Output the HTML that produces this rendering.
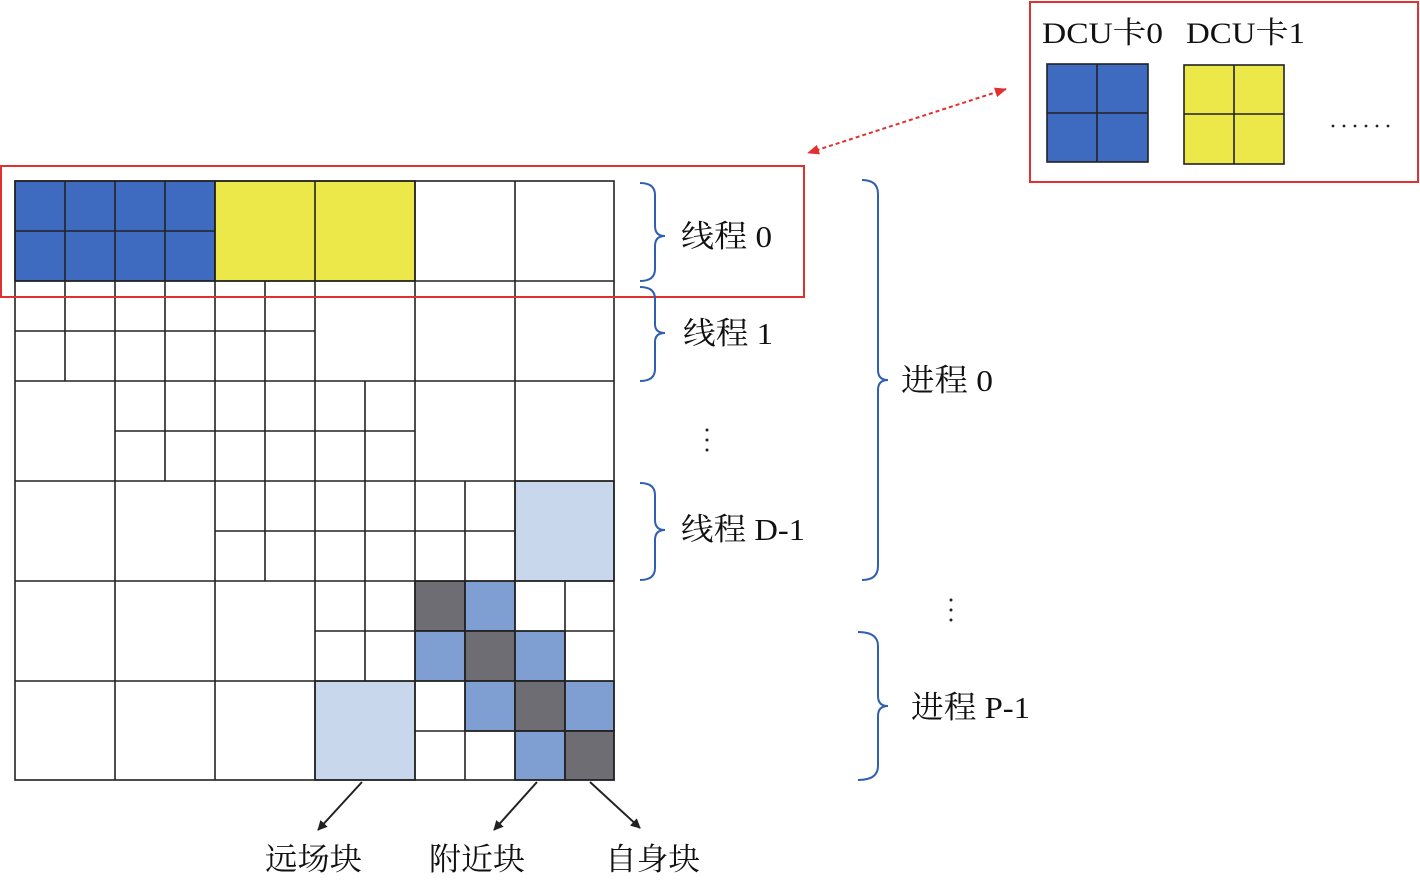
<!DOCTYPE html>
<html><head><meta charset="utf-8"><style>
html,body{margin:0;padding:0;background:#fff;}
svg{display:block;}
text{font-family:"Liberation Serif","Noto Serif CJK SC",serif;fill:#111;}
</style></head><body>
<svg width="1420" height="881" viewBox="0 0 1420 881" xmlns="http://www.w3.org/2000/svg">
<defs>
<marker id="ar" markerWidth="10" markerHeight="10" refX="9" refY="5" orient="auto" markerUnits="userSpaceOnUse"><path d="M0,0 L10,5 L0,10 z" fill="#222"/></marker>
<marker id="rr" markerWidth="12" markerHeight="10" refX="11" refY="5" orient="auto-start-reverse" markerUnits="userSpaceOnUse"><path d="M0,0 L12,5 L0,10 z" fill="#e03030"/></marker>
</defs>
<g stroke="#222" stroke-width="1.6">
<rect x="15" y="181" width="200" height="100" fill="#3e6bc0"/>
<rect x="215" y="181" width="200" height="100" fill="#ece84a"/>
<rect x="515" y="481" width="99" height="100" fill="#c9d7ec"/>
<rect x="315" y="681" width="100" height="99" fill="#c9d7ec"/>
<rect x="415" y="581" width="50" height="50" fill="#6d6d73"/>
<rect x="465" y="581" width="50" height="50" fill="#7f9fd2"/>
<rect x="415" y="631" width="50" height="50" fill="#7f9fd2"/>
<rect x="465" y="631" width="50" height="50" fill="#6d6d73"/>
<rect x="515" y="631" width="50" height="50" fill="#7f9fd2"/>
<rect x="465" y="681" width="50" height="50" fill="#7f9fd2"/>
<rect x="515" y="681" width="50" height="50" fill="#6d6d73"/>
<rect x="565" y="681" width="49" height="50" fill="#7f9fd2"/>
<rect x="515" y="731" width="50" height="49" fill="#7f9fd2"/>
<rect x="565" y="731" width="49" height="49" fill="#6d6d73"/>
<rect x="15" y="181" width="599" height="599" fill="none"/>
<path d="M115 181V780M215 181V780M315 181V780M415 181V780M515 181V780M15 281H614M15 381H614M15 481H614M15 581H614M15 681H614" fill="none"/>
<path d="M65 181V281M165 181V281M15 231H215" fill="none"/>
<path d="M65 281V381M165 281V381M265 281V381M15 331H315" fill="none"/>
<path d="M165 381V481M265 381V481M365 381V481M115 431H415" fill="none"/>
<path d="M265 481V581M365 481V581M465 481V581M215 531H515" fill="none"/>
<path d="M365 581V681M465 581V681M565 581V681M315 631H614" fill="none"/>
<path d="M465 681V780M565 681V780M415 731H614" fill="none"/>
</g>
<rect x="1" y="166" width="803" height="131" fill="none" stroke="#e03030" stroke-width="2"/>
<rect x="1030" y="2" width="388" height="180" fill="none" stroke="#e03030" stroke-width="2"/>
<line x1="1006" y1="89" x2="808" y2="153" stroke="#e03030" stroke-width="2" stroke-dasharray="4,3" marker-start="url(#rr)" marker-end="url(#rr)"/>
<text x="1042" y="43" font-size="30" textLength="121" lengthAdjust="spacingAndGlyphs">DCU卡0</text>
<text x="1186" y="43" font-size="30" textLength="119" lengthAdjust="spacingAndGlyphs">DCU卡1</text>
<g stroke="#222" stroke-width="1.6">
<rect x="1047" y="64" width="101" height="98" fill="#3e6bc0"/>
<path d="M1097 64V162M1047 113H1148"/>
<rect x="1184" y="65" width="100" height="99" fill="#ece84a"/>
<path d="M1234 65V164M1184 114H1284"/>
</g>
<g fill="#222">
<circle cx="1333" cy="126" r="1.4"/><circle cx="1344" cy="126" r="1.4"/><circle cx="1355" cy="126" r="1.4"/>
<circle cx="1366" cy="126" r="1.4"/><circle cx="1377" cy="126" r="1.4"/><circle cx="1388" cy="126" r="1.4"/>
</g>
<g fill="none" stroke="#2f5fb0" stroke-width="2">
<path d="M640 183Q655 183 655 195V226Q655 236 665 236Q655 236 655 246V269Q655 281 640 281"/>
<path d="M640 287Q655 287 655 299V324Q655 333 665 333Q655 333 655 342V369Q655 381 640 381"/>
<path d="M640 483Q655 483 655 495V520Q655 530 665 530Q655 530 655 540V568Q655 580 640 580"/>
<path d="M862 180Q878 180 878 194V370Q878 380 888 380Q878 380 878 390V566Q878 580 862 580"/>
<path d="M858 632Q878 632 878 646V696Q878 706 888 706Q878 706 878 716V766Q878 780 858 780"/>
</g>
<g font-size="31">
<text x="681" y="247" textLength="91" lengthAdjust="spacingAndGlyphs">线程 0</text>
<text x="683" y="344" textLength="90" lengthAdjust="spacingAndGlyphs">线程 1</text>
<text x="681" y="540" textLength="124" lengthAdjust="spacingAndGlyphs">线程 D-1</text>
<text x="901" y="391" textLength="92" lengthAdjust="spacingAndGlyphs">进程 0</text>
<text x="911" y="718" textLength="119" lengthAdjust="spacingAndGlyphs">进程 P-1</text>
<text x="265" y="870" textLength="97" lengthAdjust="spacingAndGlyphs">远场块</text>
<text x="429" y="870" textLength="96" lengthAdjust="spacingAndGlyphs">附近块</text>
<text x="605" y="870" textLength="95" lengthAdjust="spacingAndGlyphs">自身块</text>
</g>
<g fill="#222">
<circle cx="707" cy="430" r="1.5"/><circle cx="707" cy="440" r="1.5"/><circle cx="707" cy="450" r="1.5"/>
<circle cx="951" cy="600" r="1.5"/><circle cx="951" cy="610" r="1.5"/><circle cx="951" cy="620" r="1.5"/>
</g>
<g stroke="#222" stroke-width="2">
<line x1="362" y1="782" x2="318" y2="830" marker-end="url(#ar)"/>
<line x1="537" y1="782" x2="494" y2="830" marker-end="url(#ar)"/>
<line x1="590" y1="782" x2="640" y2="828" marker-end="url(#ar)"/>
</g>
</svg>
</body></html>
